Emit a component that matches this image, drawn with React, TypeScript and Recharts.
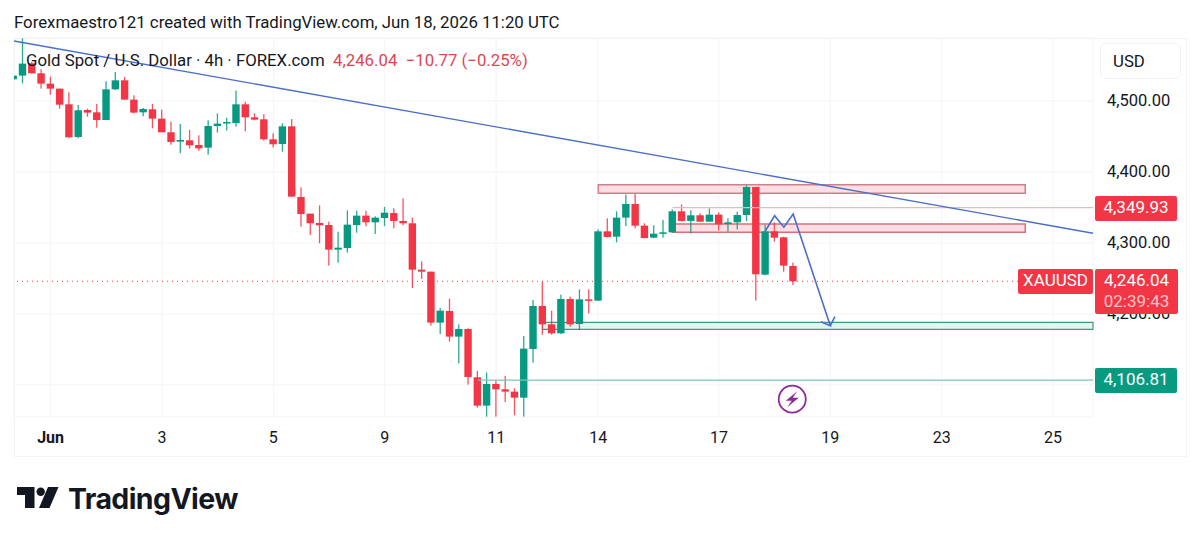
import {
  Bar,
  CartesianGrid,
  ComposedChart,
  Line,
  ReferenceArea,
  ReferenceDot,
  ReferenceLine,
  XAxis,
  YAxis,
} from 'recharts'

const GREEN = '#089981'
const RED = '#f23645'
const BLUE = '#4a6fc7'
const FONT = 'Roboto, sans-serif'

// [high, bodyTop, bodyBottom, low] of each 4h candle
const upCandles = new Set([
  0, 1, 7, 10, 11, 14, 18, 21, 22, 23, 24, 29, 35, 36, 37, 39, 40, 46, 48, 51, 55, 56, 59, 61, 63, 65,
  66, 69, 70, 71, 73, 75, 77, 78, 79, 81,
])
const prices = [
  [4543.7, 4535.7, 4530.5, 4512.2],
  [4588.3, 4552.6, 4535.7, 4524.9],
  [4555, 4553.1, 4539, 4538.5],
  [4544.6, 4539, 4524.4, 4517.4],
  [4534.3, 4524.4, 4517.4, 4508.9],
  [4517.4, 4517.4, 4494.8, 4489.2],
  [4512.2, 4495.3, 4448.8, 4448.3],
  [4494.4, 4486.9, 4449.3, 4447.4],
  [4489.2, 4487.3, 4483.6, 4477.9],
  [4495.8, 4484, 4473.2, 4462.4],
  [4527.7, 4516.4, 4473.2, 4472.8],
  [4540.8, 4529.1, 4516.4, 4515.5],
  [4533.8, 4529.1, 4501.9, 4501.9],
  [4508, 4501.9, 4483.6, 4482.6],
  [4490.1, 4488.7, 4484, 4478.4],
  [4495.8, 4488.3, 4475.1, 4461.5],
  [4487.8, 4475.1, 4455.9, 4455.9],
  [4470.9, 4455.9, 4442.3, 4438.5],
  [4467.6, 4445.1, 4442.7, 4426.3],
  [4459.2, 4444.6, 4437.6, 4432.9],
  [4451.6, 4438, 4433.3, 4430],
  [4472.8, 4464.8, 4434.3, 4424.4],
  [4482.6, 4468.1, 4464.8, 4455.4],
  [4476.5, 4470.4, 4469.5, 4458.2],
  [4514.6, 4495.3, 4469, 4463.8],
  [4499.1, 4495.3, 4477, 4457.3],
  [4482.6, 4477, 4473.7, 4472.8],
  [4481.2, 4474.2, 4446, 4444.1],
  [4454.5, 4446, 4439, 4434.7],
  [4468.5, 4464.3, 4439.4, 4428.6],
  [4474.6, 4464.3, 4365.3, 4365],
  [4378.4, 4364.8, 4340.8, 4323],
  [4341.3, 4341.3, 4327.7, 4311.3],
  [4353, 4328.2, 4324.9, 4299.5],
  [4330, 4325.3, 4290.6, 4268.1],
  [4315.9, 4293.4, 4290.6, 4272.3],
  [4346, 4325.8, 4292.9, 4286.4],
  [4345.5, 4338.5, 4325.3, 4314.5],
  [4345.5, 4338.5, 4329.1, 4323.5],
  [4337.5, 4335.7, 4329.1, 4312.7],
  [4350.7, 4342.7, 4335.2, 4323.9],
  [4348.8, 4342.2, 4331, 4320.6],
  [4362.9, 4331, 4327.7, 4324.9],
  [4335.7, 4327.7, 4262.4, 4236.6],
  [4274.2, 4262.4, 4259.6, 4249.3],
  [4259.6, 4259.6, 4187.8, 4183.6],
  [4208.4, 4204.7, 4187.8, 4171.8],
  [4221.6, 4204.2, 4168.1, 4161],
  [4185.4, 4178.9, 4168.1, 4130.5],
  [4179.8, 4178.9, 4111.3, 4100.5],
  [4119.7, 4110.8, 4070.9, 4068.1],
  [4117.4, 4101.4, 4070.9, 4055.4],
  [4106.1, 4101.4, 4093.9, 4055.4],
  [4112.7, 4093.9, 4090.6, 4076],
  [4095.3, 4090.6, 4082.1, 4057.3],
  [4169, 4151.2, 4082.1, 4055.4],
  [4219.7, 4211.3, 4150.7, 4131.4],
  [4245.1, 4211.3, 4185.4, 4170.9],
  [4204.7, 4185.4, 4172.8, 4170.9],
  [4227.2, 4221.1, 4172.8, 4171.8],
  [4224.4, 4221.1, 4185.4, 4182.1],
  [4234.7, 4220.6, 4185.9, 4177.4],
  [4234.7, 4220.6, 4218.8, 4200.9],
  [4319.2, 4316.4, 4218.8, 4218.5],
  [4334.7, 4316.4, 4308.4, 4308],
  [4344.6, 4335.7, 4308.9, 4300.9],
  [4368.1, 4354.9, 4335.7, 4323.9],
  [4369, 4354.9, 4324.4, 4320.6],
  [4327.7, 4324.4, 4307, 4306.6],
  [4324.9, 4313.1, 4307.5, 4306.6],
  [4332.4, 4315, 4313.6, 4307.5],
  [4347.4, 4344.6, 4315, 4314.5],
  [4354.4, 4344.6, 4331, 4330.5],
  [4346, 4339, 4331, 4313.1],
  [4341.8, 4339, 4330, 4329.8],
  [4348.8, 4339.9, 4330, 4329.8],
  [4343.2, 4339.9, 4326.3, 4317.4],
  [4334.7, 4329.1, 4326.7, 4315.9],
  [4344.1, 4339.4, 4329.1, 4319.2],
  [4381.2, 4378.9, 4339.4, 4331],
  [4378.9, 4378.9, 4255.9, 4218.8],
  [4325.3, 4316.4, 4255.4, 4254.4],
  [4329.1, 4316.4, 4307.5, 4301.9],
  [4308.9, 4308, 4268.1, 4259.6],
  [4272.3, 4267.6, 4246.04, 4240.8],
]

const dateTicks = [4, 16, 28, 40, 52, 63, 76, 88, 100, 112]
const dateLabels: Record<number, string> = {
  4: 'Jun', 16: '3', 28: '5', 40: '9', 52: '11', 63: '14', 76: '17', 88: '19', 100: '23', 112: '25',
}
const priceTicks = [4100, 4200, 4300, 4400, 4500]

const trendLine = [
  { x: 0.06, y: 4584.5 },
  { x: 116.3, y: 4313.7 },
]
// projected path, ending in the two strokes of the arrow head
const pathIndex = [81, 82, 83, 84, 88, 87, 88, 88.5]
const pathPrice = [4316.9, 4338.4, 4322.1, 4340.8, 4183.5, 4189.2, 4183.5, 4196.2]

const chartData = prices.map((p, i) => ({
  i,
  range: [p[3], p[0]],
  top: p[1],
  bottom: p[2],
  up: upCandles.has(i),
}))
const pathData = pathIndex.map((i, n) => ({ i, path: pathPrice[n] }))

const BODY_W = 7.4

function Candle(props: any) {
  const { x, y, width, height, payload } = props
  const color = payload.up ? GREEN : RED
  const [low, high] = payload.range
  const perUnit = height / (high - low || 1)
  const bodyY = y + (high - payload.top) * perUnit
  const bodyH = Math.max((payload.top - payload.bottom) * perUnit, 1.5)
  const center = x + width / 2
  return (
    <g>
      <rect x={center - 0.65} y={y} width={1.3} height={height} fill={color} opacity={0.85} />
      <rect x={center - BODY_W / 2} y={bodyY} width={BODY_W} height={bodyH} fill={color} />
    </g>
  )
}

function DateTick({ x, y, payload }: any) {
  const label = dateLabels[payload.value]
  return (
    <text
      x={x}
      y={y}
      dy={18}
      textAnchor="middle"
      fontFamily={FONT}
      fontSize={16}
      fontWeight={label === 'Jun' ? 700 : 400}
      fill="#131722"
    >
      {label}
    </text>
  )
}

function PriceTick({ x, y, payload }: any) {
  // the 4,100.00 label sits fully behind the 4,106.81 tag in the original
  if (payload.value === 4100) return null
  return (
    <text x={x} y={y} dy={5} fontFamily={FONT} fontSize={16.5} fill="#131722">
      {payload.value.toLocaleString('en-US', { minimumFractionDigits: 2 })}
    </text>
  )
}

function Bolt({ cx, cy }: any) {
  return (
    <g>
      <circle cx={cx} cy={cy} r={13.5} fill="#fff" stroke="#8e2a9e" strokeWidth={1.8} />
      <path
        d={`M${cx + 5} ${cy - 8} L${cx - 6.5} ${cy + 1.5} H${cx - 0.5} L${cx - 5} ${cy + 8} L${cx + 6.5} ${cy - 1.5} H${cx + 0.5} Z`}
        fill="#8e2a9e"
      />
    </g>
  )
}

function Tag({ top, text, color, left = 1095, width = 82, height = 24.5, sub }: any) {
  return (
    <div
      style={{
        position: 'absolute',
        left,
        top,
        width,
        height,
        background: color,
        borderRadius: 2,
        color: '#fff',
        fontFamily: FONT,
        fontSize: 17,
        lineHeight: '23px',
        textAlign: 'center',
      }}
    >
      {text}
      {sub && <div style={{ color: '#f9c3c8', lineHeight: '19px' }}>{sub}</div>}
    </div>
  )
}

export default function App() {
  return (
    <div style={{ position: 'absolute', left: 0, top: 0, width: 1200, height: 541, background: '#fff', overflow: 'hidden' }}>
      <div style={{ position: 'absolute', left: 14, top: 38, width: 1171, height: 417, border: '1px solid #f2f3f6' }} />

      <ComposedChart
        width={1200}
        height={541}
        data={chartData}
        margin={{ top: 38, right: 0, bottom: 84, left: 14 }}
        style={{ position: 'absolute', left: 0, top: 0 }}
      >
        <CartesianGrid stroke="#f3f4f6" />
        <XAxis
          dataKey="i"
          type="number"
          domain={[0.06, 116.3]}
          ticks={dateTicks}
          tick={<DateTick />}
          tickLine={false}
          axisLine={false}
          height={40}
          interval={0}
          allowDataOverflow
        />
        <YAxis
          orientation="right"
          domain={[4054.9, 4588.7]}
          ticks={priceTicks}
          tick={<PriceTick />}
          tickLine={false}
          axisLine={false}
          width={107}
          tickMargin={8}
          allowDataOverflow
        />
        <ReferenceArea x1={63} x2={109} y1={4370} y2={4382} fill="#fbdfe2" fillOpacity={1} stroke="#d0808a" strokeWidth={1.5} />
        <ReferenceArea x1={71} x2={109} y1={4315} y2={4326.8} fill="#fbdfe2" fillOpacity={1} stroke="#d8707c" strokeWidth={1.5} />
        <ReferenceArea x1={57} x2={116.3} y1={4178.4} y2={4188.2} fill="#e3f5ee" fillOpacity={1} stroke="#3f9a86" strokeWidth={1.2} />
        <ReferenceLine segment={[{ x: 71, y: 4349.93 }, { x: 116.3, y: 4349.93 }]} stroke="#f3b3b8" strokeWidth={1.3} />
        <ReferenceLine segment={[{ x: 50, y: 4106.81 }, { x: 116.3, y: 4106.81 }]} stroke="#7cc6b6" strokeWidth={1.3} />
        <ReferenceLine y={4246.04} stroke={RED} strokeDasharray="1 4" strokeWidth={1} />
        <Bar dataKey="range" barSize={7} shape={<Candle />} isAnimationActive={false} />
        <ReferenceLine segment={trendLine} stroke={BLUE} strokeWidth={1.4} />
        <Line
          data={pathData}
          dataKey="path"
          stroke={BLUE}
          strokeWidth={1.6}
          dot={false}
          type="linear"
          isAnimationActive={false}
        />
        <ReferenceDot x={83.9} y={4080} r={14} shape={<Bolt />} />
      </ComposedChart>

      <div style={{ position: 'absolute', left: 14, top: 12, fontFamily: FONT, fontSize: 16.8, lineHeight: '20px', color: '#131722', whiteSpace: 'nowrap' }}>
        Forexmaestro121 created with TradingView.com, Jun 18, 2026 11:20 UTC
      </div>
      <div style={{ position: 'absolute', left: 26, top: 50, fontFamily: FONT, fontSize: 16.8, lineHeight: '20px', color: '#131722', whiteSpace: 'nowrap' }}>
        Gold Spot / U.S. Dollar · 4h · FOREX.com
      </div>
      <div style={{ position: 'absolute', left: 333, top: 50, fontFamily: FONT, fontSize: 16.8, lineHeight: '20px', color: '#e04553', whiteSpace: 'pre' }}>
        4,246.04  −10.77 (−0.25%)
      </div>

      <div
        style={{
          position: 'absolute',
          left: 1100,
          top: 43,
          width: 81,
          height: 36,
          boxSizing: 'border-box',
          border: '1px solid #f0f1f4',
          borderRadius: 6,
          fontFamily: FONT,
          fontSize: 16.8,
          lineHeight: '34px',
          paddingLeft: 12,
          color: '#131722',
        }}
      >
        USD
      </div>

      <Tag top={196} text="4,349.93" color={RED} />
      <Tag top={269} text="XAUUSD" color={RED} left={1018} width={75} />
      <Tag top={269} text="4,246.04" color={RED} width={83} height={45} sub="02:39:43" />
      <Tag top={368} text="4,106.81" color={GREEN} />

      <svg width={60} height={30} style={{ position: 'absolute', left: 0, top: 480 }}>
        <path d="M17 7 H34.5 V28 H25 V15 H17 Z M48 7 H58.5 L49.5 28 H39 Z" fill="#131722" />
        <circle cx={40.7} cy={11.7} r={4.2} fill="#131722" />
      </svg>
      <div style={{ position: 'absolute', left: 68, top: 481, fontFamily: 'Inter, sans-serif', fontWeight: 700, fontSize: 28.5, lineHeight: '36px', letterSpacing: -0.6, color: '#131722' }}>
        TradingView
      </div>
    </div>
  )
}
